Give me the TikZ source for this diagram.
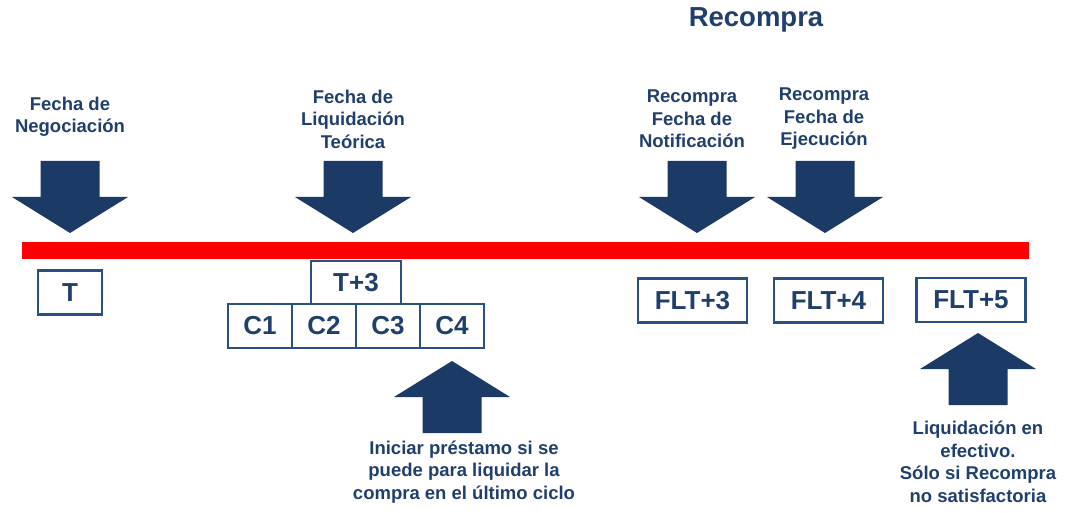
\documentclass[tikz,border=0pt]{standalone}
\usepackage{fontspec}
\setmainfont{Liberation Sans}
\usetikzlibrary{positioning}
\definecolor{navy}{RGB}{27,58,101}
\definecolor{txtblue}{RGB}{31,63,108}
\definecolor{boxblue}{RGB}{42,80,130}
\definecolor{barred}{RGB}{255,0,0}

\tikzset{
  lbl/.style={text=txtblue, font=\fontsize{18.5}{22.5}\selectfont\bfseries, align=center, inner sep=0pt},
  datebox/.style={draw=boxblue, line width=2.6pt, text=txtblue, font=\fontsize{26}{30}\selectfont\bfseries, minimum height=44pt, inner sep=0pt, outer sep=0pt},
}

\begin{document}
\begin{tikzpicture}[x=1pt, y=-1pt]
  \useasboundingbox (0,0) rectangle (1068,513);

  \node[lbl, font=\fontsize{27.5}{30}\selectfont\bfseries] (title) at (756,20) {Recompra};

  % timeline
  \fill[barred] (22,242) rectangle (1029,259);

  % arrows down onto the line
  \foreach \x in {70,353,697,825}
    \fill[navy] (\x-29.5,161) -- (\x+29.5,161) -- (\x+29.5,197) -- (\x+58,197) -- (\x,233)
      -- (\x-58,197) -- (\x-29.5,197) -- cycle;

  % arrows up from below
  \foreach \x/\y in {452/361,978/333}
    \fill[navy] (\x,\y) -- (\x+58,\y+36) -- (\x+29.5,\y+36) -- (\x+29.5,\y+72)
      -- (\x-29.5,\y+72) -- (\x-29.5,\y+36) -- (\x-58,\y+36) -- cycle;

  % labels
  \node[lbl] (negoc) at (70,117) {Fecha de\\Negociación};
  \node[lbl] (liquid) at (353,119) {Fecha de\\Liquidación\\Teórica};
  \node[lbl] (notif) at (692,119) {Recompra\\Fecha de\\Notificación};
  \node[lbl] (ejec) at (824,119) {Recompra\\Fecha de\\Ejecución};
  \node[lbl] (prest) at (464,472) {Iniciar préstamo si se\\puede para liquidar la\\compra en el último ciclo};
  \node[lbl] (efect) at (978,462) {Liquidación en\\efectivo.\\Sólo si Recompra\\no satisfactoria};

  % date boxes
  \node[datebox, minimum width=64pt] (T) at (70,292.5) {T};
  \node[datebox, minimum width=64pt] (C1) at (260,326) {C1};
  \node[datebox, minimum width=64pt, right=0pt of C1] (C2) {C2};
  \node[datebox, minimum width=64pt, right=0pt of C2] (C3) {C3};
  \node[datebox, minimum width=64pt, right=0pt of C3] (C4) {C4};
  \node[datebox, minimum width=90pt, minimum height=43pt, above=0pt of C2.north east] (T3) {T+3};
  \node[datebox, minimum width=109pt] (F3) at (692.5,300.5) {FLT+3};
  \node[datebox, minimum width=109pt] (F4) at (828.5,300.5) {FLT+4};
  \node[datebox, minimum width=109pt] (F5) at (971,300) {FLT+5};
\end{tikzpicture}
\end{document}
